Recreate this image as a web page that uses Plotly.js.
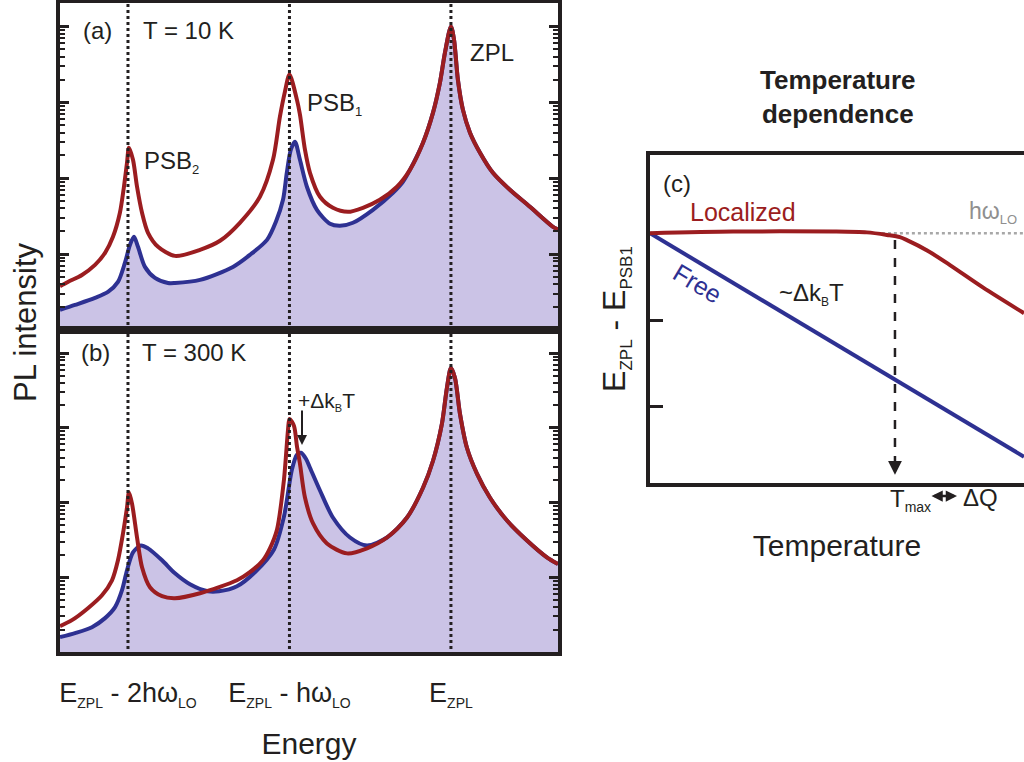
<!DOCTYPE html>
<html><head><meta charset="utf-8">
<script src="https://cdn.plot.ly/plotly-3.0.1.min.js"></script>
<style>html,body{margin:0;padding:0;background:#fff}#chart{width:1024px;height:762px}</style>
</head><body><div id="chart"></div>
<script>
const sub = (t, s) => '<sub><span style="font-size:' + s + 'px">' + t + '</span></sub>';

// ---------- data (energy in units of h*omega_LO relative to E_ZPL) ----------
const phononLines = [-2, -1, 0];
const energyTickText = ['E' + sub('ZPL', 14) + ' - 2hω' + sub('LO', 14), 'E' + sub('ZPL', 14) + ' - hω' + sub('LO', 14), 'E' + sub('ZPL', 14)];

// (a) T = 10 K
const redA_E = [-2.421,-2.372,-2.285,-2.204,-2.142,-2.093,-2.050,-2.025,-2.006,-1.994,-1.969,-1.944,-1.913,-1.876,-1.814,-1.709,-1.554,-1.430,-1.307,-1.183,-1.102,-1.059,-1.028,-1.000,-0.954,-0.935,-0.904,-0.873,-0.811,-0.731,-0.638,-0.545,-0.440,-0.334,-0.254,-0.173,-0.111,-0.068,-0.037,0.000,0.019,0.043,0.074,0.118,0.180,0.260,0.365,0.489,0.632,0.663];
const redA_I = [3.78,4.30,5.32,7.21,10.4,16.9,35.1,77.3,160,253,175,77.3,35.1,19.1,12.5,9.48,11.4,15.0,25.9,57,175,649,1387,2323,1087,689,238,118,57,40.8,36.1,40.8,52,77.3,129,294,733,1824,4539,10000,6730,1995,802,399,217,118,70.5,42.1,22.9,21.2];
const blueA_E = [-2.421,-2.328,-2.204,-2.124,-2.062,-2.019,-1.988,-1.963,-1.938,-1.895,-1.833,-1.752,-1.709,-1.554,-1.350,-1.245,-1.139,-1.084,-1.040,-1.016,-0.991,-0.966,-0.935,-0.892,-0.830,-0.749,-0.687,-0.607,-0.483,-0.359,-0.297,-0.254,-0.173,-0.111,-0.068,-0.037,0.000,0.019,0.043,0.074,0.118,0.180,0.260,0.365,0.489,0.632,0.663];
const blueA_I = [1.84,2.14,2.65,3.17,4.30,7.66,13.2,16.9,12.5,6.79,4.86,4.17,4.17,4.57,6.79,9.77,15.4,26.7,52,120,240,303,175,77.3,38.4,25.1,23.6,25.9,38.4,64.4,90,129,294,733,1824,4539,10000,6730,1995,802,399,217,118,70.5,42.1,22.9,21.2];

// (b) T = 300 K
const redB_E = [-2.421,-2.347,-2.248,-2.161,-2.099,-2.062,-2.031,-2.006,-1.994,-1.975,-1.944,-1.913,-1.864,-1.789,-1.709,-1.554,-1.325,-1.245,-1.164,-1.121,-1.077,-1.034,-1.009,-1.000,-0.972,-0.954,-0.935,-0.904,-0.854,-0.768,-0.644,-0.520,-0.396,-0.272,-0.173,-0.111,-0.056,-0.025,0.000,0.025,0.056,0.099,0.161,0.241,0.347,0.471,0.594,0.663];
const redB_I = [2.22,2.67,3.86,5.75,9.12,16.9,38.6,85.8,138,97,34.1,13.6,7.36,5.58,5.25,6.12,9.12,11.7,16.9,24.4,43.7,203,940,1318,1064,575,331,117,52.5,28.4,20.9,24.4,34.1,63.1,158,363,1130,3415,6310,4642,1538,541,244,117,57.5,31.1,18.5,15.0];
const blueB_E = [-2.421,-2.328,-2.223,-2.142,-2.080,-2.037,-2.006,-1.969,-1.920,-1.876,-1.789,-1.709,-1.616,-1.505,-1.437,-1.325,-1.214,-1.096,-1.034,-0.985,-0.954,-0.929,-0.898,-0.873,-0.811,-0.731,-0.625,-0.520,-0.396,-0.272,-0.173,-0.111,-0.056,-0.025,0.000,0.025,0.056,0.099,0.161,0.241,0.347,0.471,0.594,0.663];
const blueB_I = [1.58,1.79,2.15,2.84,3.98,6.71,12.4,21.5,26.7,24.4,16.9,11.3,8.07,6.50,6.50,7.59,11.7,23.6,65.1,275,437,464,386,293,145,63.1,34.1,26.7,34.1,63.1,158,363,1130,3415,6310,4642,1538,541,244,117,57.5,31.1,18.5,15.0];

// (c) temperature dependence of E_ZPL - E_PSB1
const tempLoc = [0,0.222,0.489,0.580,0.634,0.668,0.687,0.741,0.802,0.890,1.0];
const localized = [3.01,3.03,3.03,3.02,2.99,2.965,2.93,2.81,2.64,2.38,2.08];
const tempFree = [0,1.0];
const free = [3.01,0.41];
const hwLO = 3.01;
const Tmax = 0.655;

// ---------- styling ----------
const W = 1024, H = 762;
const px = x => x / W, py = y => 1 - y / H;
const FONT = 'Liberation Sans, Arial, sans-serif';
const INK = '#231f20', RED = '#9b1d20', BLUE = '#2e3192', FILL = 'rgb(203,195,230)', GRAY = '#8f8f8f';

function line(x, y, color, xa, ya, fill) {
  const t = {x, y, xaxis: xa, yaxis: ya, mode: 'lines', type: 'scatter',
    line: {color, width: 4, shape: 'spline', smoothing: 0.8}, hoverinfo: 'skip', showlegend: false};
  if (fill) { t.fill = 'tozeroy'; t.fillcolor = FILL; }
  return t;
}

const traces = [
  line(blueA_E, blueA_I, BLUE, 'x', 'y', true),
  line(redA_E, redA_I, RED, 'x', 'y'),
  line(blueB_E, blueB_I, BLUE, 'x2', 'y2', true),
  line(redB_E, redB_I, RED, 'x2', 'y2'),
  line(tempFree, free, BLUE, 'x3', 'y3'),
  line(tempLoc, localized, RED, 'x3', 'y3')
];

function logAxis(domain, anchor) {
  return {domain, anchor, type: 'log', range: [0, 4.31], showline: true, linewidth: 4, linecolor: INK,
    mirror: 'ticks', ticks: 'inside', ticklen: 9, tickwidth: 3, tickcolor: INK, dtick: 1,
    showticklabels: false, showgrid: false, zeroline: false,
    minor: {dtick: 'D1', ticks: 'inside', ticklen: 5, tickwidth: 2, tickcolor: INK, showgrid: false}};
}
function energyAxis(anchor, labels) {
  const a = {domain: [px(60), px(558)], anchor, range: [-2.421, 0.663], showline: true, linewidth: 4,
    linecolor: INK, mirror: true, ticks: '', showgrid: false, zeroline: false, showticklabels: labels};
  if (labels) {
    a.tickvals = phononLines; a.ticktext = energyTickText;
    a.tickfont = {size: 27, color: INK, family: FONT};
    a.ticklabelstandoff = 14;
    a.title = {text: 'Energy', font: {size: 30, color: INK, family: FONT}, standoff: 24};
  }
  return a;
}

const ann = (x, y, text, opt) => Object.assign({xref: 'paper', yref: 'paper', x: px(x), y: py(y), text,
  showarrow: false, xanchor: 'center', yanchor: 'middle', font: {size: 24, color: INK, family: FONT}}, opt || {});

const layout = {
  width: W, height: H, margin: {l: 0, r: 0, t: 0, b: 0}, paper_bgcolor: '#fff', plot_bgcolor: 'rgba(0,0,0,0)',
  font: {family: FONT, color: INK}, showlegend: false, hovermode: false,
  xaxis: energyAxis('y', false),
  yaxis: logAxis([py(330), py(3)], 'x'),
  xaxis2: energyAxis('y2', true),
  yaxis2: logAxis([py(652), py(330)], 'x2'),
  xaxis3: {domain: [px(650), 1], anchor: 'y3', range: [0, 1], showline: true, linewidth: 4, linecolor: INK,
    mirror: true, ticks: '', showticklabels: false, showgrid: false, zeroline: false,
    title: {text: 'Temperature', font: {size: 30, color: INK, family: FONT}, standoff: 50}},
  yaxis3: {domain: [py(483), py(155)], anchor: 'x3', range: [0.105, 3.92], showline: true, linewidth: 4,
    linecolor: INK, mirror: false, ticks: 'inside', ticklen: 13, tickwidth: 3, tickcolor: INK,
    tickvals: [1, 2], showticklabels: false, showgrid: false, zeroline: false,
    title: {text: 'E' + sub('ZPL', 17) + ' - E' + sub('PSB1', 17), font: {size: 32, color: INK, family: FONT}, standoff: 12}},
  shapes: [
    ...phononLines.map(e => ({type: 'line', xref: 'x', yref: 'paper', x0: e, x1: e, y0: py(655), y1: py(3),
      line: {color: INK, width: 3, dash: 'dot'}, layer: 'above'})),
    {type: 'line', xref: 'x3', yref: 'y3', x0: 0.62, x1: 1, y0: hwLO, y1: hwLO, line: {color: '#a8a8a8', width: 2.5, dash: 'dot'}, layer: 'below'},
    {type: 'line', xref: 'x3', yref: 'y3', x0: Tmax, x1: Tmax, y0: 2.93, y1: 0.3, line: {color: INK, width: 2.5, dash: 'dash'}}
  ],
  annotations: [
    ann(25, 322, 'PL intensity', {textangle: -90, font: {size: 31, color: INK, family: FONT}}),
    ann(97, 30, '(a)'),
    ann(188, 30, 'T = 10 K'),
    ann(142, 162, 'PSB' + sub('2', 13), {xanchor: 'left'}),
    ann(305, 104, 'PSB' + sub('1', 13), {xanchor: 'left'}),
    ann(468, 53, 'ZPL', {xanchor: 'left'}),
    ann(95, 353, '(b)'),
    ann(194, 353, 'T = 300 K'),
    ann(296, 401, '+Δk' + sub('B', 11) + 'T', {xanchor: 'left', font: {size: 21, color: INK, family: FONT}}),
    {xref: 'paper', yref: 'paper', x: px(302), y: py(445), ax: 0, ay: -36, text: '', showarrow: true,
      arrowhead: 2, arrowsize: 1, arrowwidth: 2, arrowcolor: INK},
    ann(838, 97, '<b>Temperature<br>dependence</b>', {font: {size: 26, color: INK, family: FONT}}),
    ann(677, 183, '(c)'),
    ann(688, 212, 'Localized', {xanchor: 'left', font: {size: 25, color: RED, family: FONT}}),
    ann(1019, 213, 'hω' + sub('LO', 13), {xanchor: 'right', font: {size: 23, color: GRAY, family: FONT}}),
    ann(697, 283, 'Free', {textangle: 31, font: {size: 25, color: BLUE, family: FONT}}),
    ann(777, 294, '~Δk' + sub('B', 12) + 'T', {xanchor: 'left'}),
    ann(888, 500, 'T' + sub('max', 14), {xanchor: 'left'}),
    ann(961, 497, 'ΔQ', {xanchor: 'left'}),
    {xref: 'paper', yref: 'paper', x: px(957), y: py(496), ax: -27, ay: 0, text: '', showarrow: true,
      arrowhead: 2, arrowside: 'end+start', arrowsize: 0.9, arrowwidth: 2.5, arrowcolor: INK},
    {xref: 'x3', yref: 'y3', x: Tmax, y: 0.2, ax: 0, ay: -14, text: '', showarrow: true,
      arrowhead: 2, arrowsize: 1.1, arrowwidth: 2.5, arrowcolor: INK}
  ]
};

Plotly.newPlot('chart', traces, layout, {staticPlot: true, displayModeBar: false});
</script></body></html>
